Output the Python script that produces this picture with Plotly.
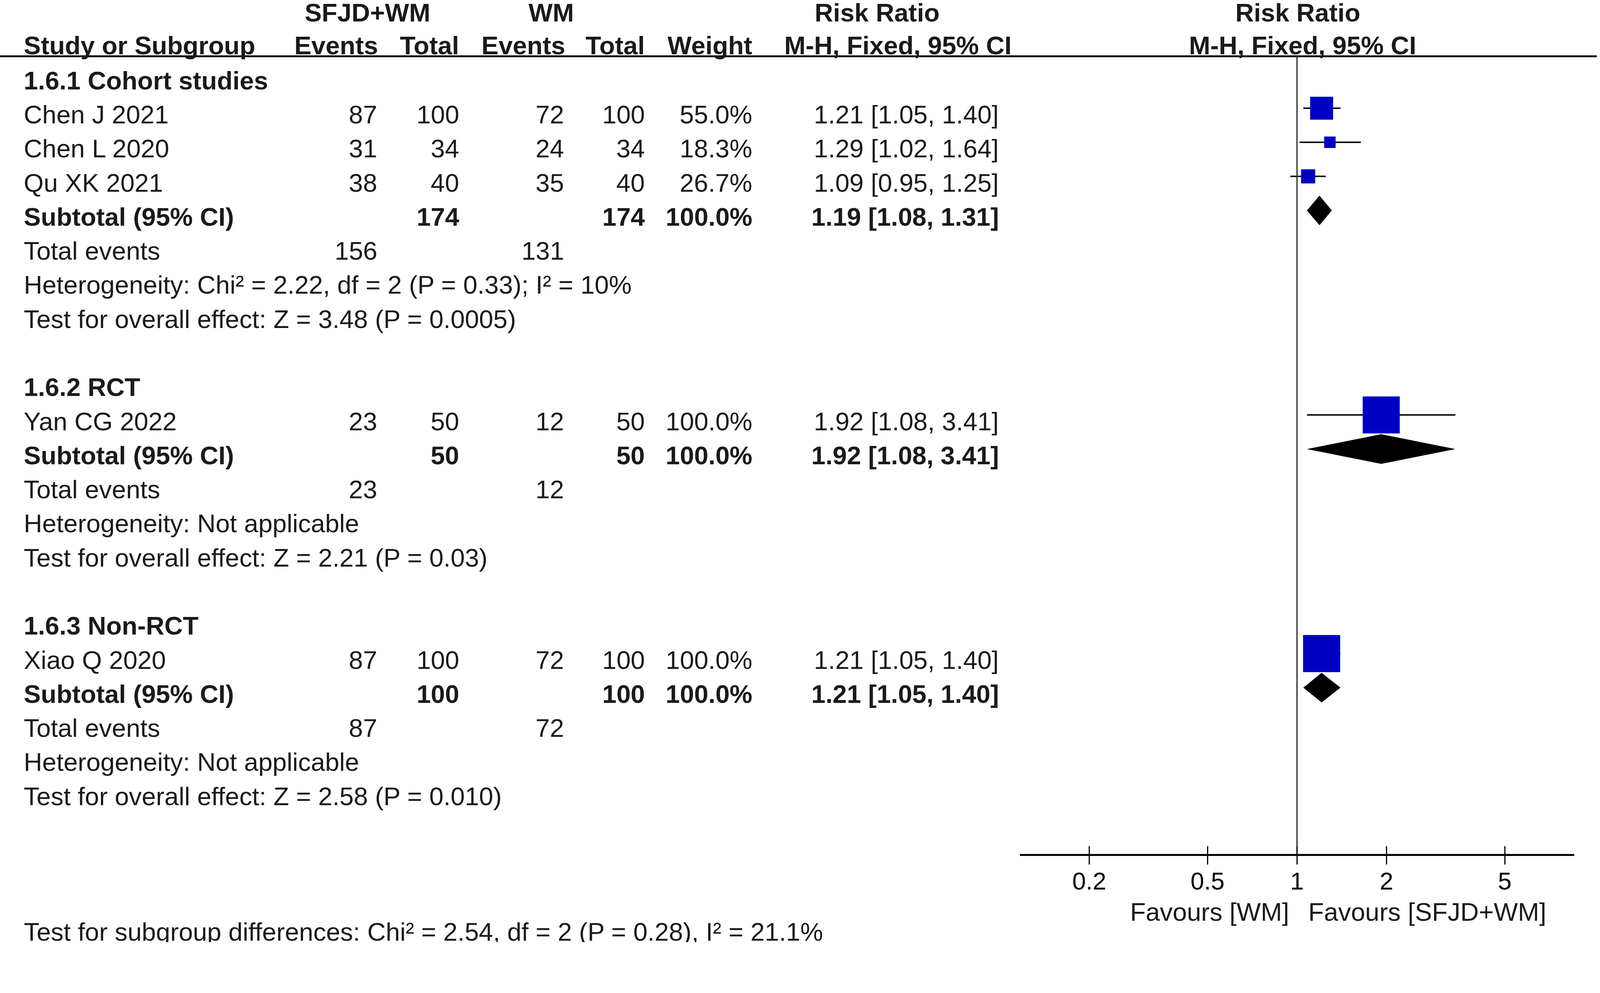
import math
import plotly.graph_objects as go

# ---- data ----
study_names = ["Chen J 2021", "Chen L 2020", "Qu XK 2021", "Yan CG 2022", "Xiao Q 2020"]
study_group = [0, 0, 0, 1, 2]
exp_events = [87, 31, 38, 23, 87]
exp_total = [100, 34, 40, 50, 100]
ctl_events = [72, 24, 35, 12, 72]
ctl_total = [100, 34, 40, 50, 100]
weights = [55.0, 18.3, 26.7, 100.0, 100.0]
rr = [1.21, 1.29, 1.09, 1.92, 1.21]
rr_lo = [1.05, 1.02, 0.95, 1.08, 1.05]
rr_hi = [1.40, 1.64, 1.25, 3.41, 1.40]

group_titles = ["1.6.1 Cohort studies", "1.6.2 RCT", "1.6.3 Non-RCT"]
sub_exp_total = [174, 50, 100]
sub_ctl_total = [174, 50, 100]
sub_exp_events = [156, 23, 87]
sub_ctl_events = [131, 12, 72]
sub_weight = [100.0, 100.0, 100.0]
sub_rr = [1.19, 1.92, 1.21]
sub_lo = [1.08, 1.08, 1.05]
sub_hi = [1.31, 3.41, 1.40]
heterogeneity = ["Heterogeneity: Chi² = 2.22, df = 2 (P = 0.33); I² = 10%",
                 "Heterogeneity: Not applicable",
                 "Heterogeneity: Not applicable"]
overall_effect = ["Test for overall effect: Z = 3.48 (P = 0.0005)",
                  "Test for overall effect: Z = 2.21 (P = 0.03)",
                  "Test for overall effect: Z = 2.58 (P = 0.010)"]

axis_ticks = [0.2, 0.5, 1, 2, 5]
axis_ticktext = ["0.2", "0.5", "1", "2", "5"]
favours = ["Favours [WM]", "Favours [SFJD+WM]"]
subgroup_test = "Test for subgroup differences: Chi² = 2.54, df = 2 (P = 0.28), I² = 21.1%"

# ---- layout constants (pixels) ----
W, H = 4317, 2543
ROW_PX = 92
ROW0_PX = 200
TEXT_DROP = 17 / ROW_PX
FONT = "Liberation Sans, Arial, sans-serif"
FS = 69
TXT = "#1a1a1a"
BLUE = "#0000c4"


def px2row(p):
    return (p - ROW0_PX) / ROW_PX


name_x = 62
col_right = [1020, 1241, 1524, 1742, 2032, 2697]

fig = go.Figure()
annots = []


def txt(text, xpx, y, anchor="left", bold=False, xref="paper", size=FS):
    if bold:
        text = "<b>" + text + "</b>"
    annots.append(dict(
        text=text, x=xpx / W if xref == "paper" else xpx, y=y, xref=xref, yref="y",
        xanchor=anchor, yanchor="middle", showarrow=False,
        font=dict(family=FONT, size=size, color=TXT)))


# headers
top_y = px2row(34)
sub_y = px2row(123)
txt("SFJD+WM", 991, top_y, "center", True)
txt("WM", 1487, top_y, "center", True)
txt("Risk Ratio", 2366, top_y, "center", True)
txt("Risk Ratio", 3501, top_y, "center", True)
txt("Study or Subgroup", name_x, sub_y, "left", True)
for lab, xr in zip(["Events", "Total", "Events", "Total", "Weight"], [1022, 1241, 1527, 1742, 2032]):
    txt(lab, xr, sub_y, "right", True)
txt("M-H, Fixed, 95% CI", 2422, sub_y, "center", True)
txt("M-H, Fixed, 95% CI", 3514, sub_y, "center", True)

# rows
row = 0
for g, title in enumerate(group_titles):
    txt(title, name_x, row + TEXT_DROP, "left", True)
    row += 1
    for i, name in enumerate(study_names):
        if study_group[i] != g:
            continue
        y = row + TEXT_DROP
        cells = [exp_events[i], exp_total[i], ctl_events[i], ctl_total[i],
                 f"{weights[i]:.1f}%", f"{rr[i]:.2f} [{rr_lo[i]:.2f}, {rr_hi[i]:.2f}]"]
        txt(name, name_x, y)
        for c, xr in zip(cells, col_right):
            txt(str(c), xr, y, "right")
        # confidence interval line
        fig.add_trace(go.Scatter(x=[rr_lo[i], rr_hi[i]], y=[row, row], mode="lines",
                                 line=dict(color="black", width=4), hoverinfo="skip"))
        # weighted square
        fig.add_trace(go.Scatter(x=[rr[i]], y=[row], mode="markers",
                                 marker=dict(symbol="square", color=BLUE,
                                             size=15.5 + 0.845 * weights[i],
                                             line=dict(width=0)),
                                 hoverinfo="skip"))
        row += 1
    # subtotal
    y = row + TEXT_DROP
    txt("Subtotal (95% CI)", name_x, y, "left", True)
    txt(str(sub_exp_total[g]), col_right[1], y, "right", True)
    txt(str(sub_ctl_total[g]), col_right[3], y, "right", True)
    txt(f"{sub_weight[g]:.1f}%", col_right[4], y, "right", True)
    txt(f"{sub_rr[g]:.2f} [{sub_lo[g]:.2f}, {sub_hi[g]:.2f}]", col_right[5], y, "right", True)
    h = 40 / ROW_PX
    fig.add_trace(go.Scatter(x=[sub_lo[g], sub_rr[g], sub_hi[g], sub_rr[g], sub_lo[g]],
                             y=[row, row - h, row, row + h, row], mode="lines",
                             fill="toself", fillcolor="black", line=dict(width=0),
                             hoverinfo="skip"))
    row += 1
    y = row + TEXT_DROP
    txt("Total events", name_x, y)
    txt(str(sub_exp_events[g]), col_right[0], y, "right")
    txt(str(sub_ctl_events[g]), col_right[2], y, "right")
    row += 1
    txt(heterogeneity[g], name_x, row + TEXT_DROP)
    row += 1
    txt(overall_effect[g], name_x, row + TEXT_DROP)
    row += 2

# line of no effect
fig.add_trace(go.Scatter(x=[1, 1], y=[px2row(152), px2row(2307)], mode="lines",
                         line=dict(color="#333333", width=3.5), hoverinfo="skip",
                         xaxis="x2"))

# favours labels and bottom note
fav_y = px2row(2461)
annots.append(dict(text=favours[0], x=0, y=fav_y, xref="x", yref="y", xanchor="right",
                   yanchor="middle", xshift=-20, showarrow=False,
                   font=dict(family=FONT, size=FS, color=TXT)))
annots.append(dict(text=favours[1], x=0, y=fav_y, xref="x", yref="y", xanchor="left",
                   yanchor="middle", xshift=28, showarrow=False,
                   font=dict(family=FONT, size=FS, color=TXT)))
txt(subgroup_test, name_x, px2row(2515))

axis_pos = 1 - 2307 / H
xr = [-0.932, 0.932]
dom = [2752 / W, 4247 / W]
fig.update_layout(
    width=W, height=H,
    margin=dict(l=0, r=0, t=0, b=0),
    paper_bgcolor="white", plot_bgcolor="white",
    showlegend=False,
    annotations=annots,
    shapes=[dict(type="line", xref="paper", yref="y", x0=0, x1=0.998,
                 y0=px2row(152), y1=px2row(152), line=dict(color="black", width=5))],
    xaxis=dict(type="log", range=xr, domain=dom, anchor="free", position=axis_pos,
               showgrid=False, zeroline=False, showline=True, linecolor="black",
               linewidth=5, ticks="outside", ticklen=23, tickwidth=3, tickcolor="black",
               tickvals=axis_ticks, ticktext=axis_ticktext, ticklabelstandoff=-11,
               tickfont=dict(family=FONT, size=66, color="black")),
    xaxis2=dict(type="log", range=xr, domain=dom, anchor="free", position=axis_pos,
                overlaying="x", showgrid=False, zeroline=False, showline=False,
                ticks="inside", ticklen=23, tickwidth=3, tickcolor="black",
                tickvals=axis_ticks, showticklabels=False),
    yaxis=dict(range=[px2row(H), px2row(0)], domain=[0, 1], visible=False,
               showgrid=False, zeroline=False),
)

# fit the fixed-size figure to whatever viewport the page gets
fit_js = """
document.body.style.margin = '0';
document.body.style.overflow = 'hidden';
var gd = document.getElementById('{plot_id}');
var s = Math.min(window.innerWidth / %d, window.innerHeight / %d);
gd.style.transformOrigin = '0 0';
gd.style.transform = 'scale(' + s + ')';
""" % (W, H)

fig.write_html("out.html", post_script=fit_js, config={"displayModeBar": False})
